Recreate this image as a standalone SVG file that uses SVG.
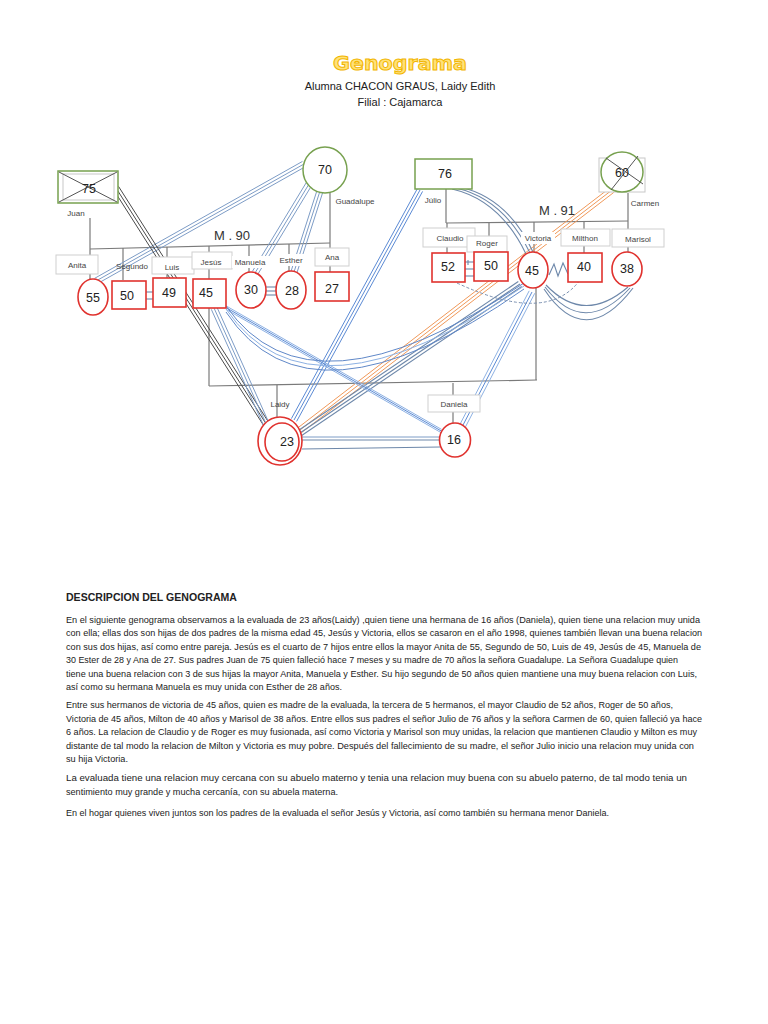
<svg xmlns="http://www.w3.org/2000/svg" width="768" height="1024" viewBox="0 0 768 1024">
<style>
.red{fill:#fff;stroke:#E0322E;stroke-width:1.6}
.green{fill:#fff;stroke:#77A14F;stroke-width:1.5}
.lbl{fill:#fff;stroke:#CFCFCF;stroke-width:1}
.nolbl{fill:#fff;stroke:none}
.tree{fill:none;stroke:#7A7A7A;stroke-width:1.2}
.num{font-family:"Liberation Sans",Arial,sans-serif;font-size:12.5px;fill:#222;text-anchor:middle;dominant-baseline:central}
.nm{font-family:"Liberation Sans",Arial,sans-serif;font-size:8px;fill:#444;text-anchor:middle;dominant-baseline:central}
.m{font-family:"Liberation Sans",Arial,sans-serif;font-size:13px;fill:#333;text-anchor:middle}
.p{font-family:"Liberation Sans",Arial,sans-serif;font-size:8.8px;fill:#222}
.cx{stroke:#555;stroke-width:1;fill:none}
.b1{stroke:#7D9CC6;stroke-width:1;fill:none}
.b2{stroke:#5B8AD4;stroke-width:1;fill:none}
.b3{stroke:#8DB1E3;stroke-width:1;fill:none}
.b4{stroke:#6088C8;stroke-width:1;fill:none}
.g1{stroke:#6E88AA;stroke-width:1.1;fill:none}
.dk{stroke:#4A4A4A;stroke-width:1;fill:none}
.or{stroke:#F0995A;stroke-width:1;fill:none}
.dash{stroke:#7A90B0;stroke-width:1;fill:none;stroke-dasharray:3 2}
</style>

<g id="header">
<text x="400" y="70" text-anchor="middle" font-family="'DejaVu Sans',sans-serif" font-weight="bold" font-size="19" fill="#FFE27A" stroke="#F2B600" stroke-width="1" textLength="134" lengthAdjust="spacingAndGlyphs">Genograma</text>
<text x="400" y="90" text-anchor="middle" font-family="'Liberation Sans',Arial,sans-serif" font-size="11" fill="#222">Alumna CHACON GRAUS, Laidy Edith</text>
<text x="400" y="106" text-anchor="middle" font-family="'Liberation Sans',Arial,sans-serif" font-size="11" fill="#222">Filial : Cajamarca</text>
</g>

<g id="tree-lines">
<line class="tree" x1="90" y1="218" x2="90" y2="280"/>
<line class="tree" x1="90" y1="249" x2="330" y2="243"/>
<line class="tree" x1="330" y1="192" x2="330" y2="272"/>
<line class="tree" x1="123" y1="248" x2="123" y2="280"/>
<line class="tree" x1="167" y1="247" x2="167" y2="278"/>
<line class="tree" x1="209" y1="246" x2="209" y2="386"/>
<line class="tree" x1="249" y1="245" x2="249" y2="272"/>
<line class="tree" x1="289" y1="244" x2="289" y2="272"/>
<line class="tree" x1="446" y1="189" x2="446" y2="223"/>
<line class="tree" x1="446" y1="223" x2="628" y2="221"/>
<line class="tree" x1="628" y1="193" x2="628" y2="252"/>
<line class="tree" x1="447" y1="223" x2="447" y2="253"/>
<line class="tree" x1="489" y1="223" x2="489" y2="252"/>
<line class="tree" x1="534" y1="222" x2="534" y2="252"/>
<line class="tree" x1="584" y1="222" x2="584" y2="253"/>
<line class="tree" x1="536" y1="288" x2="536" y2="380"/>
<line class="tree" x1="209" y1="386" x2="537" y2="380"/>
<line class="tree" x1="277" y1="385" x2="277" y2="418"/>
<line class="tree" x1="453" y1="383" x2="453" y2="423"/>
</g>

<g id="connectors">
<g id="r-guadalupe-anita"><line class="b1" x1="302.5" y1="161.4" x2="94.5" y2="278.4"/><line class="b1" x1="304" y1="164" x2="96" y2="281"/><line class="b1" x1="305.5" y1="166.6" x2="97.5" y2="283.6"/></g>
<g id="r-guadalupe-manuela"><line class="b1" x1="306.4" y1="182.4" x2="252.4" y2="271.4"/><line class="b1" x1="309" y1="184" x2="255" y2="273"/><line class="b1" x1="311.6" y1="185.6" x2="257.6" y2="274.6"/></g>
<g id="r-guadalupe-esther"><line class="b1" x1="317.1" y1="190.1" x2="291.1" y2="271.1"/><line class="b1" x1="320" y1="191" x2="294" y2="272"/><line class="b1" x1="322.9" y1="191.9" x2="296.9" y2="272.9"/></g>
<g id="r-juan-laidy"><line class="dk" x1="113.5" y1="189.6" x2="267.5" y2="431.6"/><line class="dk" x1="116" y1="188" x2="270" y2="430"/><line class="dk" x1="118.5" y1="186.4" x2="272.5" y2="428.4"/></g>
<g id="r-julio-laidy"><line class="b2" x1="417.4" y1="188.6" x2="291.4" y2="418.6"/><line class="b2" x1="420" y1="190" x2="294" y2="420"/><line class="b2" x1="422.6" y1="191.4" x2="296.6" y2="421.4"/></g>
<g id="r-carmen-laidy"><line class="or" x1="610.2" y1="187.6" x2="298.2" y2="427.6"/><line class="or" x1="612" y1="190" x2="300" y2="430"/><line class="or" x1="613.8" y1="192.4" x2="301.8" y2="432.4"/></g>
<g id="r-victoria-laidy"><line class="g1" x1="518.3" y1="281.5" x2="298.3" y2="430.5"/><line class="g1" x1="520" y1="284" x2="300" y2="433"/><line class="g1" x1="521.7" y1="286.5" x2="301.7" y2="435.5"/></g>
<g id="r-victoria-daniela"><line class="b3" x1="529.2" y1="290.8" x2="459.2" y2="425.8"/><line class="b2" x1="532" y1="292" x2="462" y2="427"/><line class="b3" x1="534.8" y1="293.2" x2="464.8" y2="428.2"/></g>
<g id="r-jesus-laidy"><line class="b1" x1="211.3" y1="309.3" x2="265.3" y2="429.3"/><line class="b1" x1="214" y1="308" x2="268" y2="428"/><line class="b1" x1="216.7" y1="306.7" x2="270.7" y2="426.7"/></g>
<g id="r-jesus-daniela"><line class="b3" x1="223.5" y1="304.4" x2="441.5" y2="429.4"/><line class="b2" x1="225" y1="307" x2="443" y2="432"/><line class="b3" x1="226.5" y1="309.6" x2="444.5" y2="434.6"/></g>
<g id="r-jesus-victoria"><path class="b4" d="M226,306 Q310,427 524,283"/><path class="b3" d="M226,309 Q310,433 524,286"/><path class="b4" d="M226,312 Q310,439 524,289"/></g>
<g id="r-julio-victoria"><path class="g1" d="M452,189 Q500,200 526,254"/><path class="g1" d="M456,188 Q504,199 530,253"/><path class="g1" d="M460,187 Q508,198 533,252"/></g>
<g id="r-victoria-marisol"><path class="g1" d="M546,285 Q584,325 628,287"/><path class="g1" d="M545,287 Q584,338 630,288"/><path class="g1" d="M544,289 Q585,351 633,288"/></g>
<g id="r-claudio-milthon"><path class="dash" d="M457,283 Q547,325 580,280"/></g>
<g id="r-victoria-milthon"><polyline class="g1" points="549,275 554,264 558,276 563,263 568,274"/></g>
<g id="r-segundo-luis"><line class="g1" x1="146" y1="292" x2="153" y2="292"/><line class="g1" x1="146" y1="299" x2="153" y2="299"/></g>
<g id="r-claudio-roger"><line class="g1" x1="465" y1="262" x2="474" y2="262"/><line class="g1" x1="465" y1="269" x2="474" y2="269"/><line class="g1" x1="465" y1="276" x2="474" y2="276"/><line class="g1" x1="468" y1="260" x2="468" y2="265"/></g>
<g id="r-manuela-esther"><line class="g1" x1="265" y1="287" x2="277" y2="287"/><line class="g1" x1="265" y1="291" x2="277" y2="291"/><line class="g1" x1="265" y1="295" x2="277" y2="295"/></g>
<g id="r-laidy-daniela"><line class="b1" x1="302" y1="437" x2="440" y2="437"/><line class="g1" x1="302" y1="440" x2="440" y2="440"/><line class="g1" x1="302" y1="449" x2="440" y2="447"/></g>
</g>

<g id="juan"><rect class="green" x="58" y="171" width="60" height="32"/><rect x="63" y="174" width="51" height="26" fill="none" stroke="#C8C8C8"/><line class="cx" x1="59" y1="172" x2="117" y2="202"/><line class="cx" x1="117" y1="172" x2="59" y2="202"/><text class="num" x="89" y="189">75</text><text class="nm" x="76" y="213">Juan</text></g>
<g id="guadalupe"><ellipse class="green" cx="325" cy="170" rx="22" ry="23"/><text class="num" x="325" y="170">70</text><text class="nm" x="355" y="201">Guadalupe</text></g>
<text class="m" x="232" y="240">M . 90</text>

<g id="anita"><rect class="lbl" x="56" y="255" width="42" height="19"/><text class="nm" x="77" y="265">Anita</text><ellipse class="red" cx="93" cy="297" rx="15" ry="18"/><text class="num" x="93" y="298">55</text></g>
<g id="segundo"><text class="nm" x="132" y="266">Segundo</text><rect class="red" x="112" y="281" width="34" height="28"/><text class="num" x="127" y="296">50</text></g>
<g id="luis"><rect class="lbl" x="152" y="257" width="42" height="17"/><text class="nm" x="172" y="267">Luis</text><rect class="red" x="153" y="278" width="33" height="29"/><text class="num" x="169" y="293">49</text></g>
<g id="jesus"><rect class="lbl" x="192" y="252" width="40" height="17"/><text class="nm" x="211" y="262">Jesús</text><rect class="red" x="193" y="279" width="33" height="29"/><text class="num" x="206" y="293">45</text></g>
<g id="manuela"><rect class="nolbl" x="232" y="256" width="38" height="12"/><text class="nm" x="250" y="262">Manuela</text><ellipse class="red" cx="251" cy="290" rx="15" ry="18"/><text class="num" x="251" y="290">30</text></g>
<g id="esther"><rect class="nolbl" x="276" y="254" width="30" height="12"/><text class="nm" x="291" y="260">Esther</text><ellipse class="red" cx="291" cy="290" rx="15" ry="19"/><text class="num" x="292" y="291">28</text></g>
<g id="ana"><rect class="lbl" x="315" y="248" width="34" height="18"/><text class="nm" x="332" y="257">Ana</text><rect class="red" x="315" y="272" width="34" height="29"/><text class="num" x="332" y="289">27</text></g>

<g id="julio"><rect class="green" x="415" y="159" width="57" height="30"/><text class="num" x="445" y="174">76</text><text class="nm" x="433" y="200">Júlio</text></g>
<g id="carmen"><rect x="599" y="158" width="46" height="34" fill="#fff" stroke="#C8C8C8"/><ellipse class="green" cx="622" cy="172" rx="21" ry="20"/><line class="cx" x1="606" y1="158" x2="643" y2="184"/><line class="cx" x1="638" y1="156" x2="611" y2="190"/><text class="num" x="622" y="173">60</text><text class="nm" x="645" y="203">Carmen</text></g>
<text class="m" x="557" y="215">M . 91</text>

<g id="claudio"><rect class="lbl" x="423" y="228" width="52" height="19"/><text class="nm" x="450" y="238">Claudio</text><rect class="red" x="432" y="253" width="33" height="29"/><text class="num" x="448" y="267">52</text></g>
<g id="roger"><rect class="lbl" x="467" y="236" width="40" height="16"/><text class="nm" x="487" y="243">Roger</text><rect class="red" x="474" y="252" width="34" height="29"/><text class="num" x="491" y="266">50</text></g>
<g id="victoria"><rect class="nolbl" x="521" y="232" width="34" height="12"/><text class="nm" x="538" y="238">Victoria</text><ellipse class="red" cx="533" cy="270" rx="15" ry="18"/><text class="num" x="532" y="271">45</text></g>
<g id="milthon"><rect class="lbl" x="561" y="229" width="49" height="17"/><text class="nm" x="585" y="238">Milthon</text><rect class="red" x="568" y="253" width="34" height="29"/><text class="num" x="584" y="267">40</text></g>
<g id="marisol"><rect class="lbl" x="612" y="229" width="52" height="18"/><text class="nm" x="638" y="239">Marisol</text><ellipse class="red" cx="627" cy="269" rx="15" ry="17"/><text class="num" x="627" y="269">38</text></g>

<g id="laidy"><text class="nm" x="280" y="404">Laidy</text><ellipse class="red" cx="280" cy="441" rx="22" ry="24"/><ellipse class="red" cx="282" cy="442" rx="17" ry="19"/><text class="num" x="287" y="442">23</text></g>
<g id="daniela"><rect class="lbl" x="428" y="395" width="52" height="17"/><text class="nm" x="454" y="404">Daniela</text><ellipse class="red" cx="455" cy="440" rx="15.5" ry="17"/><text class="num" x="454" y="440">16</text></g>

<g id="description">
<text x="66" y="601" font-family="'Liberation Sans',Arial,sans-serif" font-weight="bold" font-size="10" fill="#222" textLength="171" lengthAdjust="spacingAndGlyphs">DESCRIPCION DEL GENOGRAMA</text>
<text class="p" x="66" y="623" textLength="634" lengthAdjust="spacingAndGlyphs">En el siguiente genograma observamos a la evaluada de 23 años(Laidy) ,quien tiene una hermana de 16 años (Daniela), quien tiene una relacion muy unida</text>
<text class="p" x="66" y="636" textLength="636" lengthAdjust="spacingAndGlyphs">con ella; ellas dos son hijas de dos padres de la misma edad 45, Jesús y Victoria, ellos se casaron en el año 1998, quienes también llevan una buena relacion</text>
<text class="p" x="66" y="650" textLength="635" lengthAdjust="spacingAndGlyphs">con sus dos hijas, así como entre pareja. Jesús es el cuarto de 7 hijos entre ellos la mayor Anita de 55, Segundo de 50, Luis de 49, Jesús de 45, Manuela de</text>
<text class="p" x="66" y="663" textLength="612" lengthAdjust="spacingAndGlyphs">30 Ester de 28 y Ana de 27. Sus padres Juan de 75 quien falleció hace 7 meses  y su madre de 70 años la señora Guadalupe.  La Señora Guadalupe quien</text>
<text class="p" x="66" y="677" textLength="631" lengthAdjust="spacingAndGlyphs">tiene una buena relacion con 3 de sus hijas la mayor Anita, Manuela  y Esther. Su hijo segundo de 50 años quien mantiene una muy buena relacion con Luis,</text>
<text class="p" x="66" y="690" textLength="276" lengthAdjust="spacingAndGlyphs">así como su hermana Manuela es muy unida con Esther de 28 años.</text>
<text class="p" x="66" y="708" textLength="607" lengthAdjust="spacingAndGlyphs">Entre sus hermanos de victoria de 45 años, quien es madre de la evaluada, la tercera de 5 hermanos, el mayor Claudio de 52 años, Roger de 50 años,</text>
<text class="p" x="66" y="722" textLength="636" lengthAdjust="spacingAndGlyphs">Victoria de 45 años, Milton de 40 años y Marisol de 38 años. Entre ellos sus padres el señor Julio de 76 años y la señora Carmen de 60, quien falleció ya hace</text>
<text class="p" x="66" y="735" textLength="631" lengthAdjust="spacingAndGlyphs">6 años. La relacion de Claudio y de Roger es muy fusionada, así como Victoria y Marisol son muy unidas, la relacion que mantienen Claudio y Milton es muy</text>
<text class="p" x="66" y="749" textLength="628" lengthAdjust="spacingAndGlyphs">distante de tal modo la relacion de Milton y Victoria es muy pobre. Después del fallecimiento de su madre, el señor Julio inicio una relacion muy unida con</text>
<text class="p" x="66" y="762" textLength="62" lengthAdjust="spacingAndGlyphs">su hija Victoria.</text>
<text class="p" x="66" y="781" textLength="621" lengthAdjust="spacingAndGlyphs">La evaluada tiene una relacion muy cercana con su abuelo materno  y tenia una relacion muy buena con su abuelo paterno, de tal modo tenia un</text>
<text class="p" x="66" y="795" textLength="272" lengthAdjust="spacingAndGlyphs">sentimiento muy grande y mucha cercanía, con su abuela materna.</text>
<text class="p" x="66" y="816" textLength="543" lengthAdjust="spacingAndGlyphs">En el hogar quienes viven juntos son los padres de la evaluada el señor Jesús y Victoria, así como también su hermana menor Daniela.</text>
</g>
</svg>
